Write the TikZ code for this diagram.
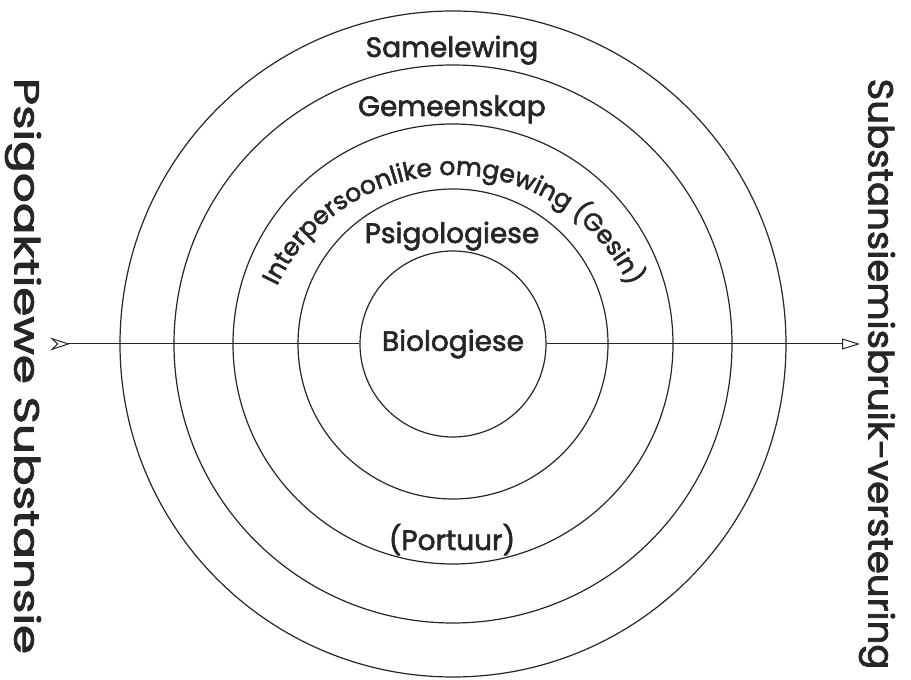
\documentclass[tikz,border=0pt]{standalone}
\usepackage{fontspec}
\setmainfont{Poppins}[FakeBold=2.2]
\usetikzlibrary{arrows.meta,decorations.text}
\begin{document}
\begin{tikzpicture}[x=1pt,y=1pt,
  ring/.style={draw=black!85, line width=1.2pt},
  lbl/.style={font=\fontsize{28}{30}\selectfont, text=black!85, anchor=base, inner sep=0pt},
  side/.style={font=\fontsize{35}{36}\selectfont, text=black!85, rotate=-90, inner sep=0pt},
  axis/.style={draw=black!85, line width=1pt}]
\useasboundingbox (0,0) rectangle (911,680);
\coordinate (C) at (453,336);
\foreach \r in {155,220,279,333} \draw[ring] (C) circle[radius=\r];
\coordinate (L) at (50,336);
\coordinate (R) at (860,336);
\node[ring, circle, fill=white, minimum size=186pt, inner sep=0pt,
      font=\fontsize{28}{30}\selectfont, text=black!85] (bio) at (C) {Biologiese};
\draw[axis, {Stealth[open,reversed,length=20pt,width=13pt,inset=7pt]}-] (L) -- (bio.west);
\draw[axis, -{Triangle[open,length=18pt,width=11pt]}] (bio.east) -- (R);
\node[lbl] (sam) at (452,623) {Samelewing};
\node[lbl] (gem) at (452,564) {Gemeenskap};
\node[lbl] (psi) at (452,437) {Psigologiese};
\node[lbl] (por) at (452,130) {(Portuur)};
\path[decorate, decoration={text along path, text align=center, text color=black!85,
  text={|\fontsize{25}{25}\selectfont|Interpersoonlike omgewing (Gesin)}}]
  (453,310) ++(154:195) arc[start angle=154, end angle=26, radius=195];
\node[side, xscale=1.34] (lt) at (23,314) {Psigoaktiewe Substansie};
\node[side, xscale=1.06] (rt) at (877,306) {Substansiemisbruik-versteuring};
\end{tikzpicture}
\end{document}
